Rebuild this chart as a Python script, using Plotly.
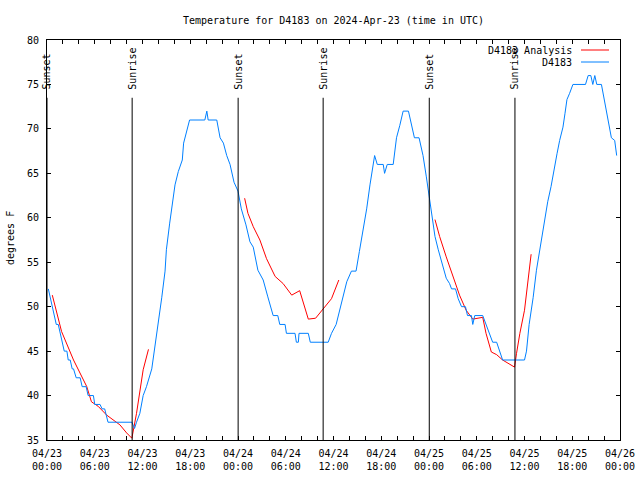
import plotly.graph_objects as go

# ---------------- data ----------------
title_text = "Temperature for D4183 on 2024-Apr-23 (time in UTC)"
y_title = "degrees F"
obs_name = "D4183"
ana_name = "D4183 Analysis"

obs_times = [
    "2024-04-23 00:10", "2024-04-23 00:40", "2024-04-23 01:00", "2024-04-23 01:10", "2024-04-23 01:25",
    "2024-04-23 01:55", "2024-04-23 02:10", "2024-04-23 02:30", "2024-04-23 02:40", "2024-04-23 02:55",
    "2024-04-23 03:10", "2024-04-23 03:20", "2024-04-23 03:40", "2024-04-23 04:10", "2024-04-23 04:25",
    "2024-04-23 04:55", "2024-04-23 05:10", "2024-04-23 05:50", "2024-04-23 06:00", "2024-04-23 06:40",
    "2024-04-23 06:55", "2024-04-23 07:15", "2024-04-23 07:40", "2024-04-23 10:40", "2024-04-23 11:00",
    "2024-04-23 11:15", "2024-04-23 11:40", "2024-04-23 12:05", "2024-04-23 12:30", "2024-04-23 13:10",
    "2024-04-23 13:35", "2024-04-23 14:05", "2024-04-23 14:25", "2024-04-23 14:50", "2024-04-23 15:00",
    "2024-04-23 15:25", "2024-04-23 15:50", "2024-04-23 16:05", "2024-04-23 16:30", "2024-04-23 16:45",
    "2024-04-23 17:00", "2024-04-23 17:10", "2024-04-23 17:30", "2024-04-23 17:55", "2024-04-23 19:50",
    "2024-04-23 20:05", "2024-04-23 20:15", "2024-04-23 21:20", "2024-04-23 21:45", "2024-04-23 22:10",
    "2024-04-23 22:35", "2024-04-23 23:00", "2024-04-23 23:30", "2024-04-24 00:00", "2024-04-24 00:25",
    "2024-04-24 01:00", "2024-04-24 01:30", "2024-04-24 01:55", "2024-04-24 02:30", "2024-04-24 03:10",
    "2024-04-24 03:45", "2024-04-24 04:25", "2024-04-24 05:00", "2024-04-24 05:15", "2024-04-24 05:55",
    "2024-04-24 06:05", "2024-04-24 07:10", "2024-04-24 07:20", "2024-04-24 07:35", "2024-04-24 07:40",
    "2024-04-24 08:50", "2024-04-24 09:05", "2024-04-24 11:20", "2024-04-24 11:45", "2024-04-24 12:20",
    "2024-04-24 13:00", "2024-04-24 13:40", "2024-04-24 14:15", "2024-04-24 14:50", "2024-04-24 15:15",
    "2024-04-24 15:55", "2024-04-24 16:10", "2024-04-24 16:35", "2024-04-24 16:55", "2024-04-24 17:10",
    "2024-04-24 17:30", "2024-04-24 18:15", "2024-04-24 18:25", "2024-04-24 18:45", "2024-04-24 19:30",
    "2024-04-24 19:55", "2024-04-24 20:20", "2024-04-24 20:45", "2024-04-24 21:25", "2024-04-24 21:45",
    "2024-04-24 22:10", "2024-04-24 22:45", "2024-04-24 23:15", "2024-04-24 23:40", "2024-04-25 00:00",
    "2024-04-25 00:20", "2024-04-25 00:45", "2024-04-25 01:10", "2024-04-25 01:35", "2024-04-25 02:10",
    "2024-04-25 02:35", "2024-04-25 02:50", "2024-04-25 03:20", "2024-04-25 03:40", "2024-04-25 04:05",
    "2024-04-25 04:35", "2024-04-25 04:50", "2024-04-25 05:20", "2024-04-25 05:30", "2024-04-25 05:45",
    "2024-04-25 06:45", "2024-04-25 07:10", "2024-04-25 07:35", "2024-04-25 08:00", "2024-04-25 08:30",
    "2024-04-25 08:55", "2024-04-25 09:15", "2024-04-25 12:00", "2024-04-25 12:15", "2024-04-25 12:35",
    "2024-04-25 13:05", "2024-04-25 13:30", "2024-04-25 13:55", "2024-04-25 14:25", "2024-04-25 14:55",
    "2024-04-25 15:20", "2024-04-25 15:45", "2024-04-25 16:05", "2024-04-25 16:25", "2024-04-25 16:50",
    "2024-04-25 17:05", "2024-04-25 17:20", "2024-04-25 17:40", "2024-04-25 18:05", "2024-04-25 19:40",
    "2024-04-25 20:00", "2024-04-25 20:20", "2024-04-25 20:35", "2024-04-25 20:50", "2024-04-25 21:05",
    "2024-04-25 21:40", "2024-04-25 22:05", "2024-04-25 22:30", "2024-04-25 22:55", "2024-04-25 23:20",
    "2024-04-25 23:35",
]
obs_temps = [
    52, 50, 49, 48, 48,
    46, 45, 45, 44, 44,
    43, 43, 42, 42, 41,
    41, 40, 40, 39, 39,
    38.5, 38.5, 37, 37, 36.3,
    37, 38, 40, 41, 43,
    45.5, 48.5, 51, 54, 56.4,
    59.4, 62.4, 63.7, 65.2, 66,
    66.5, 68.4, 69.7, 71, 71,
    72, 71, 71, 69, 68.4,
    67, 66, 64, 63, 61,
    59.2, 57.3, 56.7, 54.1, 53,
    51.1, 49, 49, 48, 48,
    47, 47, 46, 46, 47,
    47, 46, 46, 47, 48,
    50.4, 52.8, 54, 54, 56.2,
    59.4, 61, 63.7, 65.6, 67,
    66, 66, 65, 66, 66,
    69, 70.4, 72, 72, 70.6,
    69, 69, 67, 64.6, 62.4,
    60.1, 57.9, 56.4, 55.1, 53.2,
    52.6, 52, 52, 50.9, 50,
    50, 49, 49, 48, 49,
    49, 48, 47, 46, 46,
    45, 44, 44, 45, 48,
    51, 54.1, 56.4, 59.4, 61.8,
    63.5, 65.7, 67.2, 68.7, 70.2,
    71.7, 73.3, 74, 75, 75,
    76, 76, 75, 76, 75,
    75, 73, 71, 69, 68.7,
    67,
]

ana_times = [
    "2024-04-23 00:40", "2024-04-23 01:50", "2024-04-23 03:20", "2024-04-23 05:00", "2024-04-23 05:35",
    "2024-04-23 06:25", "2024-04-23 07:30", "2024-04-23 09:10", "2024-04-23 10:00", "2024-04-23 10:40",
    "2024-04-23 11:15", "2024-04-23 12:05", "2024-04-23 12:45",
    "2024-04-23 18:00",
    "2024-04-24 00:50", "2024-04-24 01:15", "2024-04-24 01:55", "2024-04-24 02:45", "2024-04-24 03:35",
    "2024-04-24 04:40", "2024-04-24 05:40", "2024-04-24 06:45", "2024-04-24 07:45", "2024-04-24 08:50",
    "2024-04-24 09:45", "2024-04-24 10:40", "2024-04-24 11:45", "2024-04-24 12:40",
    "2024-04-24 18:00",
    "2024-04-25 00:45", "2024-04-25 01:20", "2024-04-25 02:10", "2024-04-25 03:00", "2024-04-25 03:50",
    "2024-04-25 04:40", "2024-04-25 05:30", "2024-04-25 06:45", "2024-04-25 07:10", "2024-04-25 07:50",
    "2024-04-25 08:30", "2024-04-25 09:15", "2024-04-25 09:55", "2024-04-25 10:45", "2024-04-25 11:00",
    "2024-04-25 11:25", "2024-04-25 12:00", "2024-04-25 12:25", "2024-04-25 12:50",
]
ana_temps = [
    51.3, 47.2, 44, 41, 39.3,
    38.8, 37.8, 36.7, 35.8, 35.2,
    38, 42.9, 45.2,
    None,
    62.2, 60.5, 59, 57.5, 55.4,
    53.4, 52.6, 51.3, 51.8, 48.6,
    48.7, 49.7, 50.9, 53,
    None,
    59.8, 57.9, 55.6, 53.4, 51.3,
    49.6, 48.6, 48.8, 47, 44.9,
    44.6, 44, 43.6, 43.2, 44.75,
    47, 49.6, 52.6, 55.9,
]

sun_events = ["Sunset", "Sunrise", "Sunset", "Sunrise", "Sunset", "Sunrise"]
sun_times = ["2024-04-23 00:00", "2024-04-23 10:42", "2024-04-24 00:01",
             "2024-04-24 10:42", "2024-04-25 00:02", "2024-04-25 10:48"]

x_range = ["2024-04-23 00:00", "2024-04-26 00:00"]
y_range = [35, 80]

# ---------------- style ----------------
FONT = "DejaVu Sans Mono"
BLUE = "#0080ff"
RED = "#ff0000"
L, R, T, B = 47, 20, 40, 40
PW, PH = 640 - L - R, 480 - T - B

fig = go.Figure()
fig.add_trace(go.Scatter(x=ana_times, y=ana_temps, mode="lines", name=ana_name,
                         line=dict(color=RED, width=1), connectgaps=False, showlegend=False))
fig.add_trace(go.Scatter(x=obs_times, y=obs_temps, mode="lines", name=obs_name,
                         line=dict(color=BLUE, width=1), showlegend=False))

# sunrise / sunset lines and labels
line_top = 73.5
for name, t in zip(sun_events, sun_times):
    fig.add_shape(type="line", x0=t, x1=t, y0=y_range[0], y1=line_top, xref="x", yref="y",
                  line=dict(color="black", width=1))
    fig.add_annotation(x=t, y=74.2, xref="x", yref="y", text=name, textangle=-90,
                       showarrow=False, xanchor="center", yanchor="bottom",
                       font=dict(family=FONT, size=10, color="black"))

# manual legend (text on left, line sample on right, as in the reference)
legend_items = [(ana_name, RED), (obs_name, BLUE)]
for i, (name, col) in enumerate(legend_items):
    ypix = 50 + i * 12
    yp = 1 - (ypix - T) / PH
    fig.add_annotation(x=(574 - L) / PW, y=yp, xref="paper", yref="paper", text=name,
                       showarrow=False, xanchor="right", yanchor="middle",
                       font=dict(family=FONT, size=10, color="black"))
    fig.add_shape(type="line", xref="paper", yref="paper",
                  x0=(581 - L) / PW, x1=(609 - L) / PW, y0=yp, y1=yp,
                  line=dict(color=col, width=1))

# y-axis title placed like the reference (rotated, far left)
fig.add_annotation(x=(10 - L) / PW, y=1 - (238 - T) / PH, xref="paper", yref="paper",
                   text=y_title, textangle=-90, showarrow=False,
                   xanchor="center", yanchor="middle",
                   font=dict(family=FONT, size=10, color="black"))

fig.update_layout(
    width=640, height=480,
    margin=dict(l=L, r=R, t=T, b=B, autoexpand=False),
    paper_bgcolor="white", plot_bgcolor="white",
    font=dict(family=FONT, size=10, color="black"),
    title=dict(text=title_text, x=0.5, xref="paper", xanchor="center",
               y=1 - 20 / 480, yref="container", yanchor="middle",
               font=dict(family=FONT, size=10, color="black")),
    showlegend=False,
)
fig.update_xaxes(
    type="date", range=x_range, showgrid=False, zeroline=False, automargin=False,
    showline=True, linecolor="black", linewidth=1, mirror="allticks",
    ticks="inside", ticklen=4, tickcolor="black",
    dtick=6 * 3600 * 1000, tick0="2024-04-23 00:00",
    tickformat="%m/%d<br>%H:%M", ticklabelstandoff=4,
    minor=dict(dtick=2 * 3600 * 1000, ticks="inside", ticklen=4, tickcolor="black", showgrid=False),
)
fig.update_yaxes(
    range=y_range, showgrid=False, zeroline=False, automargin=False,
    showline=True, linecolor="black", linewidth=1, mirror="allticks",
    ticks="inside", ticklen=4, tickcolor="black", dtick=5, tick0=35,
    ticklabelstandoff=5,
)

fig.write_html("out.html", config={"displayModeBar": False},
               post_script="document.body.style.margin='0';document.body.style.padding='0';"
                           "document.documentElement.style.overflow='hidden';")
